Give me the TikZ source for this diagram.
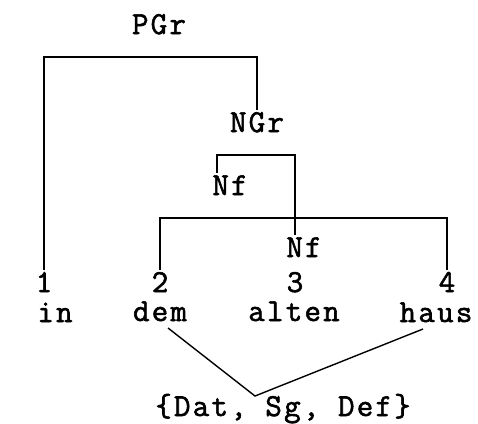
\documentclass[tikz,border=0pt]{standalone}
\usepackage{fontspec}
\newfontfamily\tw[LetterSpace=7,FakeBold=1.8]{Latin Modern Mono}
\usetikzlibrary{calc}
\begin{document}
\begin{tikzpicture}[x=1pt,y=-1pt,
  lbl/.style={font=\tw\fontsize{32}{32}\selectfont, inner sep=0pt, text height=18pt, text depth=0pt, outer sep=5pt, anchor=base},
  bar/.style={line width=2pt, line cap=rect, line join=miter},
  thinline/.style={line width=1.4pt}]
\useasboundingbox (0,0) rectangle (478,423);
\node[lbl] (pgr) at (159,34) {PGr};
\node[lbl] (ngr) at (257,132) {NGr};
\node[lbl] (nfa) at (230,195) {Nf};
\node[lbl] (nfb) at (304,257) {Nf};
\node[lbl] (one) at (44,292) {1};
\node[lbl] (two) at (160,292) {2};
\node[lbl] (three) at (295,292) {3};
\node[lbl] (four) at (447,292) {4};
\node[lbl] (in) at (55,322) {in};
\node[lbl] (dem) at (160,321) {dem};
\node[lbl] (alten) at (294,321) {alten};
\node[lbl] (haus) at (436,322) {haus};
\node[lbl] (feat) at (283,416) {\{Dat, Sg, Def\}};
\coordinate (pgrbar) at (0,57);
\coordinate (nfbarA) at (0,155);
\coordinate (nfbarB) at (0,218);
\draw[bar] (one.north) |- (pgrbar -| ngr) -- (ngr.north);
\draw[bar] ($(nfa.north)+(-13,0)$) |- (nfbarA -| three) -- (three |- nfb.north);
\draw[bar] (two.north) |- (nfbarB -| four) -- (four.north);
\draw[thinline] ($(dem.south)+(8,2)$) -- ($(feat.north)+(-28,3)$) -- ($(haus.south)+(-13,2)$);
\end{tikzpicture}
\end{document}
